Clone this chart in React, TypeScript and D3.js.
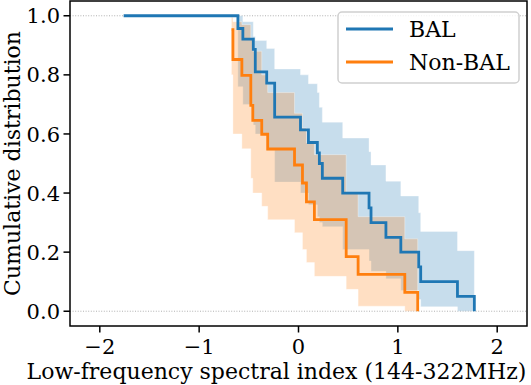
import React from 'react';
import * as d3 from 'd3';

// step positions (spectral index) and survival levels
const balX = [-1.76, -0.61, -0.56, -0.455, -0.435, -0.32, -0.24, 0.02, 0.10, 0.19, 0.21, 0.24, 0.445, 0.71, 0.73, 0.88, 1.03, 1.21, 1.23, 1.60, 1.77];
const balS = [1.0, 0.957, 0.921, 0.886, 0.81, 0.772, 0.657, 0.614, 0.571, 0.536, 0.5, 0.45, 0.4, 0.35, 0.3, 0.25, 0.2, 0.15, 0.1, 0.05, 0.0];
const balUpper = [1.0, 1.0, 0.98, 0.93, 0.916, 0.889, 0.82, 0.80, 0.77, 0.74, 0.69, 0.64, 0.586, 0.54, 0.495, 0.44, 0.39, 0.333, 0.27, 0.205, 0.205];
const balLower = [1.0, 0.76, 0.70, 0.63, 0.60, 0.545, 0.437, 0.40, 0.36, 0.32, 0.30, 0.286, 0.209, 0.17, 0.135, 0.11, 0.07, 0.04, 0.015, 0.0, 0.0];

const nonX = [-0.675, -0.66, -0.57, -0.48, -0.46, -0.37, -0.31, -0.04, 0.04, 0.08, 0.16, 0.48, 0.60, 1.07, 1.20];
const nonS = [0.953, 0.852, 0.798, 0.697, 0.646, 0.599, 0.549, 0.495, 0.434, 0.370, 0.310, 0.185, 0.125, 0.064, 0.0];
const nonUpper = [0.995, 0.98, 0.97, 0.92, 0.88, 0.80, 0.74, 0.67, 0.62, 0.57, 0.53, 0.40, 0.32, 0.245, 0.245];
const nonLower = [0.80, 0.60, 0.55, 0.45, 0.40, 0.355, 0.31, 0.266, 0.209, 0.165, 0.118, 0.074, 0.017, 0.0, 0.0];

const xTicks = [-2, -1, 0, 1, 2];
const yTicks = [0, 0.2, 0.4, 0.6, 0.8, 1.0];

const series = [
    { name: 'BAL', color: '#1f77b4', xs: balX, s: balS, hi: balUpper, lo: balLower },
    { name: 'Non-BAL', color: '#ff7f0e', xs: nonX, s: nonS, hi: nonUpper, lo: nonLower },
];

const W = 531;
const H = 385;
const left = 70, right = 527, top = 1, bottom = 326;
const font = '"DejaVu Serif", serif';
const fs = 22;
const tickFs = 21;

export default function App() {
    const x = d3.scaleLinear().domain([-2.3, 2.3]).range([left, right]);
    const y = d3.scaleLinear().domain([-0.05, 1.05]).range([bottom, top]);

    const area = d3.area<number[]>()
        .x(i => x(i[0]))
        .y0(i => y(i[1]))
        .y1(i => y(i[2]))
        .curve(d3.curveStepAfter);

    const line = d3.line<number[]>()
        .x(d => x(d[0]))
        .y(d => y(d[1]))
        .curve(d3.curveStepAfter);

    const fmt = (v: number) => (v < 0 ? '\u2212' + Math.abs(v) : String(v));

    return (
        <svg width={W} height={H} style={{ position: 'absolute', left: 0, top: 0, background: '#fff' }}
            fontFamily={font}>
            <defs>
                <clipPath id="plot"><rect x={left} y={top} width={right - left} height={bottom - top} /></clipPath>
            </defs>

            {[0, 1].map(v => (
                <line key={v} x1={left} x2={right} y1={y(v)} y2={y(v)}
                    stroke="#b0b0b0" strokeWidth={1} strokeDasharray="1,1.6" />
            ))}

            <g clipPath="url(#plot)">
                {series.map(s => {
                    const pts = s.xs.map((v, i) => [v, s.lo[i], s.hi[i]]);
                    return (
                        <path key={s.name + 'band'} d={area(pts) || ''} fill={s.color} fillOpacity={0.25}
                            stroke="#fff" strokeOpacity={0.35} strokeWidth={1} />
                    );
                })}
                {series.map(s => {
                    const pts = s.xs.map((v, i) => [v, s.s[i]]);
                    return (
                        <path key={s.name} d={line(pts) || ''} fill="none" stroke={s.color}
                            strokeWidth={2.8} strokeLinejoin="miter" />
                    );
                })}
            </g>

            <rect x={left} y={top} width={right - left} height={bottom - top} fill="none" stroke="#000" strokeWidth={1.5} />

            {xTicks.map(t => (
                <g key={t} transform={`translate(${x(t)},${bottom})`}>
                    <line y1={0} y2={6.5} stroke="#000" strokeWidth={1.5} />
                    <text y={20} dy="0.36em" textAnchor="middle" fontSize={tickFs}>{fmt(t)}</text>
                </g>
            ))}
            {yTicks.map(t => (
                <g key={t} transform={`translate(${left},${y(t)})`}>
                    <line x1={0} x2={-6.5} stroke="#000" strokeWidth={1.5} />
                    <text x={-10} dy="0.36em" textAnchor="end" fontSize={tickFs}>{t.toFixed(1)}</text>
                </g>
            ))}

            <text x={(left + right) / 2 - 22} y={379} textAnchor="middle" fontSize={fs}>
                Low-frequency spectral index (144-322MHz)
            </text>
            <text transform={`translate(20,${(top + bottom) / 2})  rotate(-90)`} textAnchor="middle" fontSize={fs}>
                Cumulative distribution
            </text>

            <g>
                <rect x={338} y={12} width={181} height={71} rx={4} fill="#fff" fillOpacity={0.8}
                    stroke="#d0d0d0" strokeWidth={1.5} />
                {series.map((s, i) => (
                    <g key={s.name} transform={`translate(346,${29 + i * 33})`}>
                        <line x1={0} x2={47} stroke={s.color} strokeWidth={2.8} />
                        <text x={63} dy="0.36em" fontSize={fs}>{s.name}</text>
                    </g>
                ))}
            </g>
        </svg>
    );
}
